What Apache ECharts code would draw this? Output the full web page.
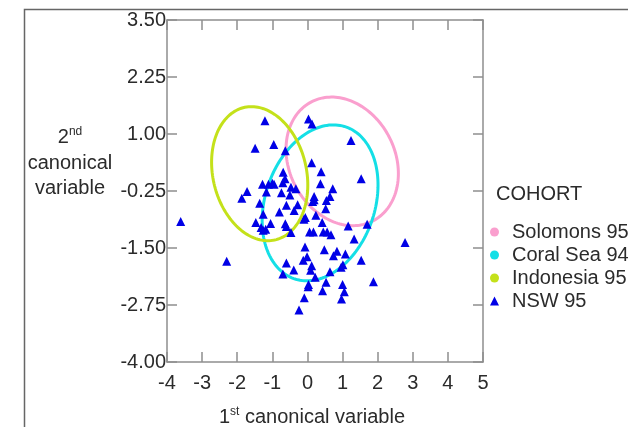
<!DOCTYPE html>
<html>
<head>
<meta charset="utf-8">
<script src="https://cdn.jsdelivr.net/npm/echarts@6/dist/echarts.min.js"></script>
<style>html,body{margin:0;padding:0;background:#fff;}#c{width:628px;height:427px;}</style>
</head>
<body>
<div id="c"></div>
<script>
// ---- data ----
const xTicks = [-4, -3, -2, -1, 0, 1, 2, 3, 4, 5];
const yTicks = ['-4.00', '-2.75', '-1.50', '-0.25', '1.00', '2.25', '3.50'];
const cohortNames = ['Solomons 95', 'Coral Sea 94', 'Indonesia 95', 'NSW 95'];

// NSW 95 individuals (1st canonical, 2nd canonical)
const nswX = [-3.61, -2.30, -1.87, -1.72, -1.49, -1.47, -1.36, -1.32, -1.28, -1.26,
  -1.21, -1.19, -1.26, -1.17, -1.11, -1.05, -1.00, -0.96, -0.95, -0.80,
  -0.74, -0.70, -0.69, -0.64, -0.63, -0.63, -0.60, -0.60, -0.60, -0.70,
  -0.50, -0.47, -0.47, -0.33, -0.28, -0.38, -0.39, -0.10, -0.06, -0.07,
  -0.01, -0.12, -0.24, -0.09, 0.03, 0.13, 0.12, 0.06, 0.17, 0.19,
  0.19, 0.15, 0.12, 0.09, 0.22, 0.03, 0.02, 0.24, 0.37, 0.39,
  0.42, 0.45, 0.56, 0.67, 0.48, 0.54, 0.64, 0.52, 0.43, 0.53,
  0.64, 0.72, 0.84, 0.74, 1.08, 1.01, 0.96, 1.00, 1.05, 0.97,
  1.16, 1.24, 1.33, 1.53, 1.53, 1.70, 1.88, 2.78];
const nswY = [-0.92, -1.79, -0.41, -0.26, 0.69, -0.94, -0.52, -1.05, -0.10, -0.76,
  1.29, -1.09, -1.11, -0.27, -0.10, -0.96, -0.08, 0.77, -0.10, -0.71,
  -0.29, -0.07, 0.16, 0.02, 0.63, -0.97, -1.03, -0.56, -1.83, -2.07,
  -0.34, -0.17, -1.16, -0.20, -0.55, -0.68, -1.98, -0.87, -0.83, -1.48,
  -1.69, -1.77, -2.86, -2.59, 1.33, 1.22, 0.37, -1.15, -1.15, -0.37,
  -0.44, -0.48, -1.89, -1.99, -2.14, -2.30, -2.35, -0.78, -0.09, 0.17,
  -0.94, -1.15, -1.15, -1.21, -1.54, -0.46, -0.37, -0.64, -2.44, -2.25,
  -2.02, -0.20, -1.57, -1.67, -1.63, -1.87, -1.92, -2.30, -2.46, -2.62,
  -1.02, 0.86, -1.30, 0.02, -1.77, -0.98, -2.24, -1.38];

// cohort ellipses: centre, half-extent along each axis, correlation
const ellCx = [0.99, 0.36, -1.36];
const ellCy = [0.40, -0.51, 0.13];
const ellHx = [1.60, 1.65, 1.37];
const ellHy = [1.41, 1.71, 1.47];
const ellR  = [-0.19, 0.23, -0.17];

const colors = ['#fa9fce', '#14dfe6', '#c4e11a', '#0000e6'];

// ---- chart ----
const chart = echarts.init(document.getElementById('c'), null, {renderer: 'canvas'});
const axisCol = '#8e8e8e';
const txtCol = '#2b2b2b';
const fontFam = '"Liberation Sans", Arial, sans-serif';

function ellipseSeries(i) {
  return {
    type: 'custom',
    name: cohortNames[i],
    xAxisIndex: 0, yAxisIndex: 0,
    itemStyle: {color: colors[i]},
    data: [[ellCx[i], ellCy[i]]],
    z: 2,
    renderItem: function (params, api) {
      const cx = ellCx[i], cy = ellCy[i], hx = ellHx[i], hy = ellHy[i], r = ellR[i];
      const q = Math.sqrt(1 - r * r);
      const pts = [];
      const N = 160;
      for (let k = 0; k < N; k++) {
        const t = 2 * Math.PI * k / N;
        pts.push(api.coord([cx + hx * Math.cos(t), cy + hy * (r * Math.cos(t) + q * Math.sin(t))]));
      }
      return {type: 'polygon', shape: {points: pts}, style: {fill: 'none', stroke: colors[i], lineWidth: 3}};
    }
  };
}

const nswData = nswX.map((x, k) => [x, nswY[k]]);

const axisLine = {show: true, onZero: false, lineStyle: {color: axisCol, width: 1.5}};
const axisTick = {show: true, inside: true, length: 10, lineStyle: {color: axisCol, width: 1.5}};
const splitLine = {show: false};

const option = {
  animation: false,
  backgroundColor: '#fff',
  grid: {left: 167, top: 20, right: 145, bottom: 65, containLabel: false},
  xAxis: [
    {type: 'value', position: 'bottom', min: -4, max: 5, interval: 1,
      axisLine: axisLine, axisTick: axisTick, splitLine: splitLine,
      axisLabel: {color: txtCol, fontSize: 20, fontFamily: fontFam, margin: 11}},
    {type: 'value', position: 'top', min: -4, max: 5, interval: 1,
      axisLine: axisLine, axisTick: axisTick, splitLine: splitLine,
      axisLabel: {show: false}}
  ],
  yAxis: [
    {type: 'value', position: 'left', min: -4, max: 3.5, interval: 1.25,
      axisLine: axisLine, axisTick: axisTick, splitLine: splitLine,
      axisLabel: {color: txtCol, fontSize: 20, fontFamily: fontFam, margin: 1,
        formatter: v => v.toFixed(2)}},
    {type: 'value', position: 'right', min: -4, max: 3.5, interval: 1.25,
      axisLine: axisLine, axisTick: axisTick, splitLine: splitLine,
      axisLabel: {show: false}}
  ],
  legend: {
    orient: 'vertical', left: 485, top: 217,
    itemWidth: 9, itemHeight: 9, itemGap: 3,
    selectedMode: false,
    textStyle: {color: txtCol, fontSize: 20, fontFamily: fontFam, lineHeight: 20, padding: [0, 0, 0, 8]},
    data: [
      {name: cohortNames[0], icon: 'circle'},
      {name: cohortNames[1], icon: 'circle'},
      {name: cohortNames[2], icon: 'circle'},
      {name: cohortNames[3], icon: 'triangle'}
    ]
  },
  graphic: [
    {type: 'rect', left: 22, top: 7, shape: {width: 700, height: 500}, silent: true,
      style: {fill: 'none', stroke: '#666', lineWidth: 1.5}, z: -10},
    {type: 'text', left: 496, top: 184, style: {text: 'COHORT', fill: txtCol, fontSize: 20, fontFamily: fontFam}},
    {type: 'text', x: 70, y: 137, style: {text: '{n|2}{s|nd}', align: 'center', verticalAlign: 'middle',
      rich: {n: {fontSize: 20, fontFamily: fontFam, fill: txtCol, lineHeight: 22},
             s: {fontSize: 12, fontFamily: fontFam, fill: txtCol, verticalAlign: 'top', lineHeight: 22}}}},
    {type: 'text', x: 70, y: 163, style: {text: 'canonical', align: 'center', verticalAlign: 'middle', fill: txtCol, fontSize: 20, fontFamily: fontFam}},
    {type: 'text', x: 70, y: 188, style: {text: 'variable', align: 'center', verticalAlign: 'middle', fill: txtCol, fontSize: 20, fontFamily: fontFam}},
    {type: 'text', x: 312, y: 417, style: {text: '{n|1}{s|st}{n| canonical variable}', align: 'center', verticalAlign: 'middle',
      rich: {n: {fontSize: 20, fontFamily: fontFam, fill: txtCol, lineHeight: 22},
             s: {fontSize: 12, fontFamily: fontFam, fill: txtCol, verticalAlign: 'top', lineHeight: 22}}}}
  ],
  series: [
    ellipseSeries(0),
    ellipseSeries(1),
    ellipseSeries(2),
    {type: 'scatter', name: cohortNames[3], symbol: 'triangle', symbolSize: 9,
      itemStyle: {color: colors[3], opacity: 1}, data: nswData, z: 3}
  ]
};
chart.setOption(option);
</script>
</body>
</html>
